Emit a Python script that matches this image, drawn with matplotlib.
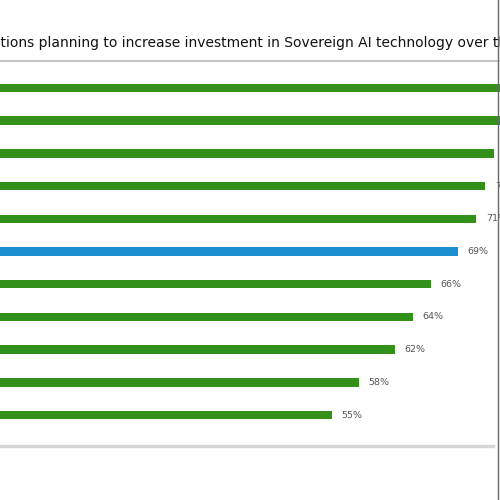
import matplotlib
matplotlib.use("Agg")
import matplotlib.pyplot as plt
from matplotlib.lines import Line2D

# ---- data (read / estimated from the reference) ----
categories = ["Item 1", "Item 2", "Item 3", "Item 4", "Item 5", "Item 6",
              "Item 7", "Item 8", "Item 9", "Item 10", "Item 11"]
values = [76, 75, 73, 72, 71, 69, 66, 64, 62, 58, 55]
highlight = [False, False, False, False, False, True, False, False, False, False, False]
value_labels = [f"{v}%" for v in values]
title_text = ("Share of organizations planning to increase investment in "
              "Sovereign AI technology over the next two years")
visible_start = "tions planning"

GREEN = "#33901a"
BLUE = "#1b8fcf"

W = H = 500
fig = plt.figure(figsize=(5, 5), dpi=100)
fig.patch.set_facecolor("white")

# axes: value 0 sits off the left edge (cropped chart)
x0_px, px_per_pct = -163, 9.0
top_px, bot_px = 71.6, 431.4
ax = fig.add_axes([x0_px / W, 1 - bot_px / H, 100 * px_per_pct / W, (bot_px - top_px) / H])
ax.set_xlim(0, 100)
ax.set_ylim(len(values) - 0.5, -0.5)
ypos = list(range(len(values)))
colors = [BLUE if h else GREEN for h in highlight]
ax.barh(ypos, values, height=0.26, color=colors, edgecolor="none")
for y, v, lab in zip(ypos, values, value_labels):
    ax.annotate(lab, (v, y), xytext=(7, 0), textcoords="offset points",
                va="center", ha="left", fontsize=6.8, color="#555555")
ax.set_axis_off()

# title, cropped on both sides: place so that "tions" begins at left edge
fam = "DejaVu Sans"
renderer = fig.canvas.get_renderer()
probe = fig.text(0, 0, "tions planning to increase investment in Sovereign AI technology over t",
                 fontsize=10, family=fam)
w10 = probe.get_window_extent(renderer).width
probe.remove()
fs = 10 * 498 / w10
full_prefix = title_text[: title_text.index(visible_start)]
probe = fig.text(0, 0, full_prefix, fontsize=fs, family=fam)
wpre = probe.get_window_extent(renderer).width
probe.remove()
fig.text((1 - wpre) / W, 1 - 43 / H, title_text, fontsize=fs, family=fam,
         color="#111111", va="center", ha="left")

# separators
fig.add_artist(Line2D([0, 1], [1 - 61 / H, 1 - 61 / H], transform=fig.transFigure,
                      color="#c4c4c4", lw=1.5))
fig.add_artist(Line2D([0, 493 / W], [1 - 446 / H, 1 - 446 / H], transform=fig.transFigure,
                      color="#d6d6d6", lw=2.5))
fig.add_artist(Line2D([497.5 / W, 497.5 / W], [0, 1], transform=fig.transFigure,
                      color="#6a6a6a", lw=1.0))

fig.savefig("out.png", dpi=100, facecolor="white")
